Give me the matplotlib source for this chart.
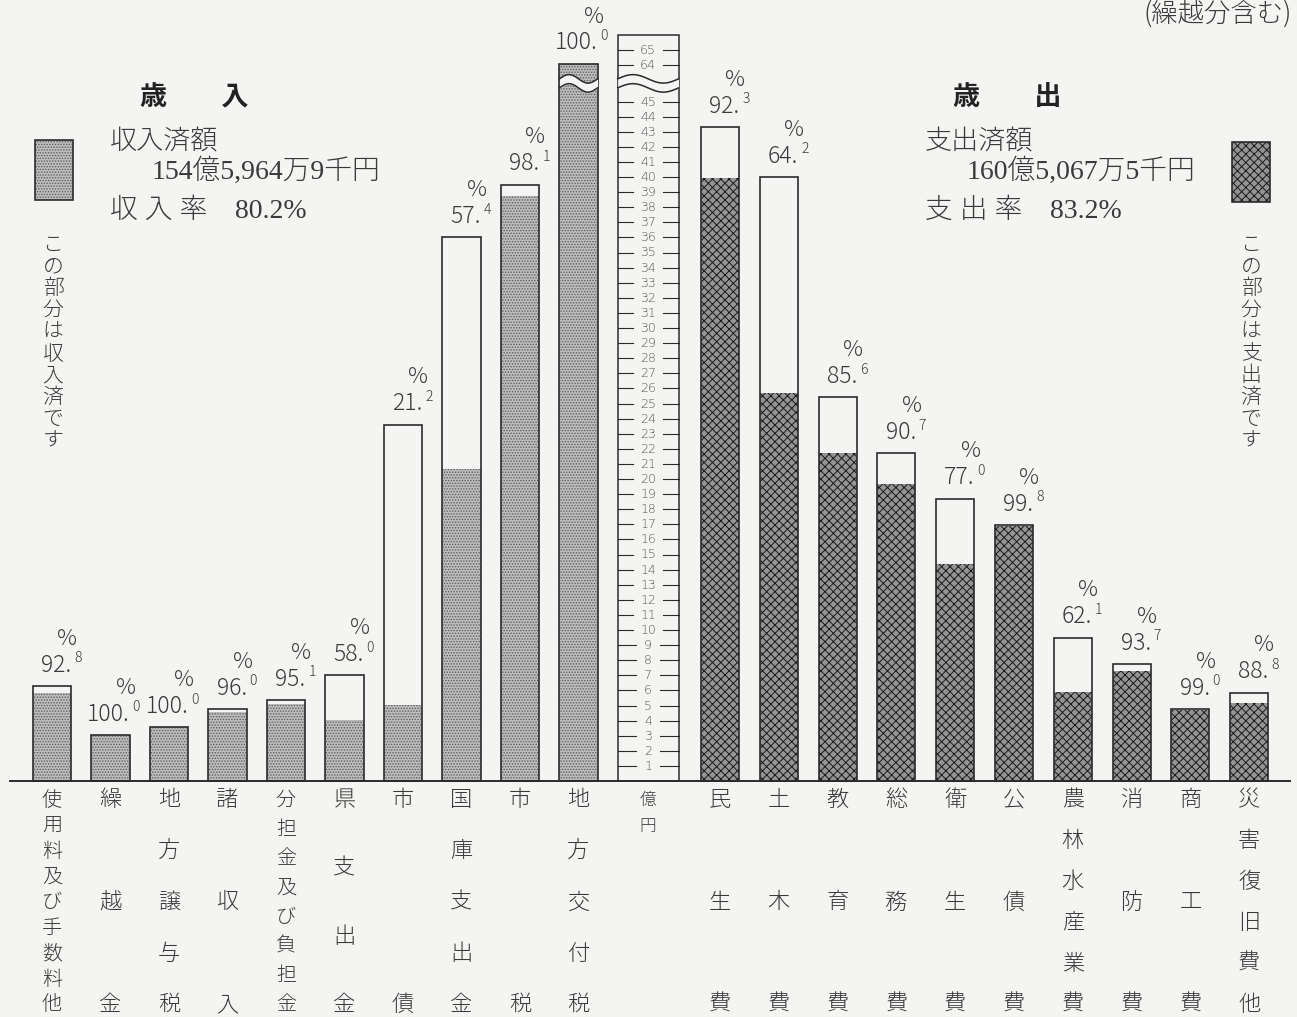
import matplotlib
matplotlib.use("Agg")
import matplotlib.pyplot as plt
from matplotlib.patches import Rectangle
import numpy as np

plt.rcParams['font.family'] = ['Noto Sans CJK JP', 'DejaVu Sans']
plt.rcParams['font.weight'] = 'light'
plt.rcParams['hatch.linewidth'] = 0.7

# === Data (億円) ===
rev_labels = ['使用料及び手数料他', '繰越金', '地方譲与税', '諸収入', '分担金及び負担金',
              '県支出金', '市債', '国庫支出金', '市税', '地方交付税']
rev_budget = [6.3, 3.05, 3.55, 4.75, 5.35, 7.0, 23.6, 36.0, 39.5, 64.1]
rev_rate = [92.8, 100.0, 100.0, 96.0, 95.1, 58.0, 21.2, 57.4, 98.1, 100.0]

exp_labels = ['民生費', '土木費', '教育費', '総務費', '衛生費', '公債費',
              '農林水産業費', '消防費', '商工費', '災害復旧費他']
exp_budget = [43.3, 40.0, 25.4, 21.7, 18.7, 16.95, 9.5, 7.75, 4.75, 5.85]
exp_rate = [92.3, 64.2, 85.6, 90.7, 77.0, 99.8, 62.1, 93.7, 99.0, 88.8]

scale_ticks = list(range(1, 46)) + [64, 65]

# === Layout helpers ===
W_PX, H_PX = 1297, 1017
PX, PY = 58.5, 15.1          # pixels per x unit / per 億円
X0, Y0 = 52, 781             # pixel of first bar centre / baseline
BREAK_AT, BREAK_SHIFT = 45, 16.6
BAR_W = 0.65
BG = '#f4f4f2'
INK = '#2b2b2b'
TXT = '#3a3a3a'
REV_FACE, REV_HATCH = '#bdbdbd', '#5e5e5e'
EXP_FACE, EXP_HATCH = '#949494', '#1a1a1a'


def disp(v):
    """Map value to drawn height (scale is broken above 45)."""
    return v if v <= BREAK_AT else v - BREAK_SHIFT


def fy(p):
    return (Y0 - p) / PY


def fx(p):
    return (p - X0) / PX


fig = plt.figure(figsize=(W_PX / 100, H_PX / 100), dpi=100, facecolor=BG)
ax = fig.add_axes([0, 0, 1, 1])
ax.set_xlim(fx(0), fx(W_PX))
ax.set_ylim(fy(H_PX), fy(0))
ax.axis('off')

rev_x = np.arange(len(rev_labels))
exp_x = 11.42 + np.arange(len(exp_labels)) * 1.005
scale_x = 10.19
scale_w = 1.04


def wave_band(xc, half, lo, hi):
    xs = np.linspace(xc - half, xc + half, 60)
    t = (xs - xs[0]) / (xs[-1] - xs[0])
    amp = 0.28
    w_lo = lo + amp * np.sin(2 * np.pi * t)
    w_hi = hi + amp * np.sin(2 * np.pi * t)
    ax.fill_between(xs, w_lo - 0.02, w_hi + 0.02, color=BG, zorder=5, linewidth=0)
    ax.plot(xs, w_lo, color=INK, lw=1.1, zorder=6)
    ax.plot(xs, w_hi, color=INK, lw=1.1, zorder=6)


def pct_label(xc, top, rate):
    s = f"{rate:.1f}"
    main, sup = s.split('.')
    ax.annotate(main + '.', (xc, top), xytext=(14, 15), textcoords='offset points',
                ha='right', va='center', fontsize=16.5, color=TXT, zorder=7)
    ax.annotate(sup, (xc, top), xytext=(16, 20), textcoords='offset points',
                ha='left', va='center', fontsize=10, color=TXT, zorder=7)
    ax.annotate('%', (xc, top), xytext=(11, 34), textcoords='offset points',
                ha='center', va='center', fontsize=16, color=TXT, style='italic', zorder=7)


def draw_side(xs, budget, rate, face, hcol, hatch):
    tops = [disp(b) for b in budget]
    done = [disp(b * r / 100) for b, r in zip(budget, rate)]
    ax.bar(xs, done, width=BAR_W, color=face, edgecolor=hcol, hatch=hatch,
           linewidth=0, zorder=2)
    ax.bar(xs, tops, width=BAR_W, fill=False, edgecolor=INK, linewidth=1.2, zorder=3)
    for xc, t, r in zip(xs, tops, rate):
        pct_label(xc, t, r)
    return tops


rev_tops = draw_side(rev_x, rev_budget, rev_rate, REV_FACE, REV_HATCH, '......')
exp_tops = draw_side(exp_x, exp_budget, exp_rate, EXP_FACE, EXP_HATCH, 'xxxx')

# break on the tall bar
for xc, b in zip(rev_x, rev_budget):
    if b > BREAK_AT:
        wave_band(xc, BAR_W / 2, 45.9, 46.5)

# === Centre scale ===
scale_top = fy(35)
ax.add_patch(Rectangle((scale_x - scale_w / 2, 0), scale_w, scale_top,
                       fill=False, edgecolor=INK, linewidth=1.1, zorder=3))
for v in scale_ticks:
    d = disp(v)
    gap = 0.2 if v < 10 else 0.25
    ax.plot([scale_x - scale_w / 2, scale_x - gap], [d, d], color=INK, lw=0.8, zorder=3)
    ax.plot([scale_x + gap, scale_x + scale_w / 2], [d, d], color=INK, lw=0.8, zorder=3)
    ax.text(scale_x, d, str(v), ha='center', va='center', fontsize=9, color='#555555',
            family=['DejaVu Sans'], zorder=4)
wave_band(scale_x, scale_w / 2, 45.9, 46.5)

# baseline
ax.plot([fx(10), fx(1290)], [0, 0], color=INK, lw=1.4, zorder=4)


# === Category labels (vertical) ===
def vlabel(xc, text, y_top=800, y_bot=1005, size=16):
    n = len(text)
    ys = [y_top] if n == 1 else np.linspace(y_top, y_bot, n)
    if n >= 8:
        size = 14.5
    for ch, yp in zip(text, ys):
        ax.text(xc, fy(yp), ch, ha='center', va='center', fontsize=size, color=TXT)


for xc, lab in zip(rev_x, rev_labels):
    vlabel(xc, lab)
for xc, lab in zip(exp_x, exp_labels):
    vlabel(xc, lab)
ax.text(scale_x, fy(800), '億', ha='center', va='center', fontsize=12, color=TXT)
ax.text(scale_x, fy(826), '円', ha='center', va='center', fontsize=12, color=TXT)


# === Headings and notes ===
def ftext(xp, yp, s, **kw):
    kw.setdefault('color', TXT)
    kw.setdefault('va', 'center')
    fig.text(xp / W_PX, 1 - yp / H_PX, s, **kw)


serif = ['Liberation Serif', 'Noto Sans CJK JP']
ftext(140, 97, '歳　　入', fontsize=19.5, fontweight='bold', color='#222222')
ftext(110, 142, '収入済額', fontsize=19.5)
ftext(152, 171, '154億5,964万9千円', fontsize=20, family=serif)
ftext(110, 211, '収 入 率　80.2%', fontsize=20, family=serif)

ftext(953, 97, '歳　　出', fontsize=19.5, fontweight='bold', color='#222222')
ftext(925, 142, '支出済額', fontsize=19.5)
ftext(967, 171, '160億5,067万5千円', fontsize=20, family=serif)
ftext(925, 211, '支 出 率　83.2%', fontsize=20, family=serif)

ftext(1292, 14, '(繰越分含む)', fontsize=19, ha='right')

# legend swatches
for (xp, yp), face, hcol, hatch in [((35, 200), REV_FACE, REV_HATCH, '......'),
                                    ((1232, 202), EXP_FACE, EXP_HATCH, 'xxxx')]:
    fig.patches.append(Rectangle((xp / W_PX, 1 - yp / H_PX), 38 / W_PX, 60 / H_PX,
                                 transform=fig.transFigure, facecolor=face,
                                 edgecolor=hcol, hatch=hatch, linewidth=0))
    fig.patches.append(Rectangle((xp / W_PX, 1 - yp / H_PX), 38 / W_PX, 60 / H_PX,
                                 transform=fig.transFigure, fill=False,
                                 edgecolor=INK, linewidth=1.2))

for i, ch in enumerate('この部分は収入済です'):
    ftext(53, 245 + i * 21.7, ch, fontsize=15, ha='center')
for i, ch in enumerate('この部分は支出済です'):
    ftext(1251, 245 + i * 21.7, ch, fontsize=15, ha='center')

fig.savefig('out.png', dpi=100, facecolor=BG)
